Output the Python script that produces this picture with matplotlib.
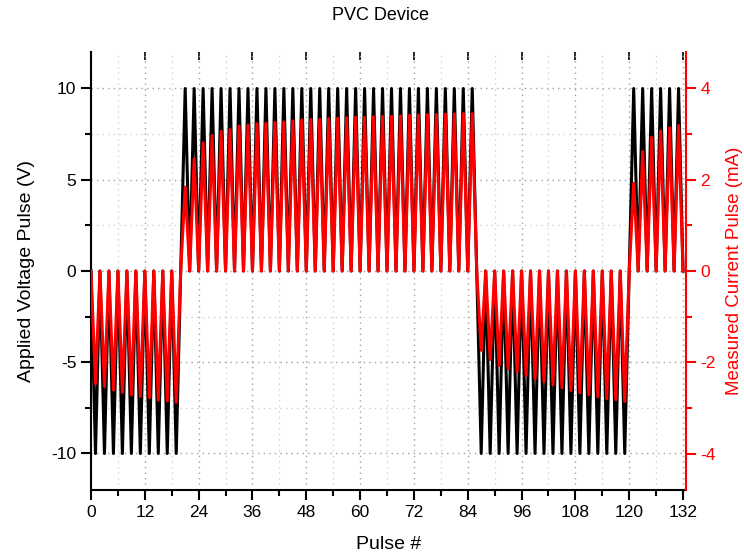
import numpy as np
import matplotlib
matplotlib.use("Agg")
import matplotlib.pyplot as plt
from matplotlib.ticker import MultipleLocator

plt.rcParams['font.family'] = ['Liberation Sans', 'DejaVu Sans']

# pulse amplitudes (V) at odd pulse numbers 1,3,...,131
volt_peaks = [-10] * 10 + [10] * 33 + [-10] * 17 + [10] * 6
# measured current peaks (mA) at the same pulses
curr_peaks = [
    -2.47, -2.53, -2.61, -2.66, -2.72, -2.75, -2.78, -2.83, -2.85, -2.88,
    1.84, 2.46, 2.81, 2.97, 3.06, 3.10, 3.18,
    3.20, 3.23, 3.24, 3.26, 3.27, 3.29, 3.31, 3.32, 3.32, 3.34, 3.35, 3.36, 3.37,
    3.37, 3.38, 3.39, 3.39, 3.40, 3.41, 3.42, 3.43, 3.43, 3.44, 3.44, 3.45, 3.45,
    -1.74, -1.94, -2.07, -2.14, -2.21, -2.29, -2.36, -2.43, -2.49,
    -2.56, -2.62, -2.67, -2.71, -2.76, -2.80, -2.82, -2.86,
    1.92, 2.62, 2.93, 3.07, 3.14, 3.19,
]

pulse = np.arange(133)
volt = np.zeros(133)
volt[1::2] = volt_peaks
curr = np.zeros(133)
curr[1::2] = curr_peaks

fig = plt.figure(figsize=(7.44, 5.59), dpi=100)
ax = fig.add_axes([91 / 744, 1 - 490 / 559, 595 / 744, 438 / 559])
ax2 = ax.twinx()

ax.plot(pulse, volt, color='black', lw=2.2)
ax2.plot(pulse, curr, color='red', lw=2.2)

ax.set_xlim(0, 132.66)
ax.set_ylim(-12, 12)
ax2.set_ylim(-4.8, 4.8)

ax.xaxis.set_major_locator(MultipleLocator(12))
ax.xaxis.set_minor_locator(MultipleLocator(6))
ax.yaxis.set_major_locator(MultipleLocator(5))
ax.yaxis.set_minor_locator(MultipleLocator(2.5))
ax2.yaxis.set_major_locator(MultipleLocator(2))
ax2.yaxis.set_minor_locator(MultipleLocator(1))

ax.grid(which='major', color='#a0a0a0', linestyle=(0, (1, 3)), lw=1.0)
ax.grid(which='minor', color='#cfcfcf', linestyle=(0, (1, 3)), lw=1.0)
ax.set_axisbelow(True)

for a in (ax, ax2):
    a.spines['top'].set_visible(False)
    for s in a.spines.values():
        s.set_linewidth(1.5)
ax2.spines['left'].set_visible(False)
ax2.spines['bottom'].set_visible(False)
ax2.spines['right'].set_color('red')
ax.spines['right'].set_visible(False)

ax.tick_params(which='major', length=7, width=1.5, labelsize=12.5, direction='out')
ax.tick_params(which='minor', length=4, width=1.5, direction='out')
ax2.tick_params(which='major', length=7, width=1.5, labelsize=12.5, colors='red')
ax2.tick_params(which='minor', length=4, width=1.5, colors='red')
ax.set_yticks([-10, -5, 0, 5, 10])
ax.set_yticklabels(['-10', '-5', '0', '5', '10'])
ax2.set_yticks([-4, -2, 0, 2, 4])
ax2.set_yticklabels(['-4', '-2', '0', '2', '4'])

top = ax.secondary_xaxis('top')
top.xaxis.set_major_locator(MultipleLocator(12))
top.tick_params(direction='in', length=6, width=1.2, labeltop=False)
top.spines['top'].set_visible(False)

ax.set_xlabel('Pulse #', fontsize=14, labelpad=12)
ax.set_ylabel('Applied Voltage Pulse (V)', fontsize=14, labelpad=12)
ax2.set_ylabel('Measured Current Pulse (mA)', fontsize=13.5, color='red')
ax2.yaxis.set_label_coords((726 - 91) / 595, 0.5)
fig.text(381 / 744, 1 - 15 / 559, 'PVC Device', ha='center', va='center', fontsize=13)

fig.savefig('out.png', dpi=100)
